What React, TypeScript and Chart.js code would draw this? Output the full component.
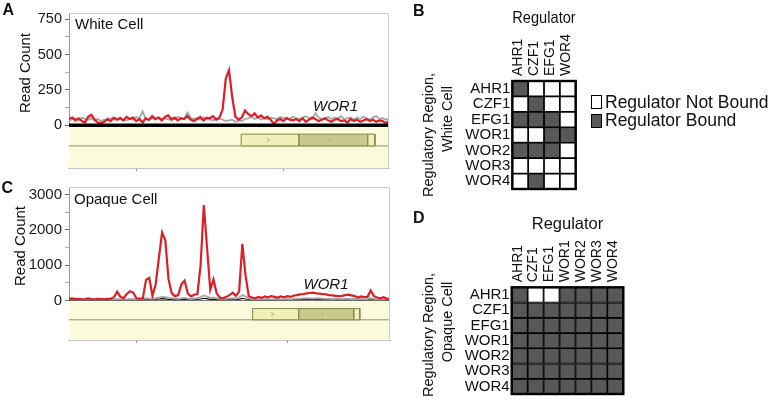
import React, { useEffect, useRef } from 'react';
import { Chart, registerables } from 'chart.js';

Chart.register(...registerables);

const FONT = "'Liberation Sans', Arial, Helvetica, sans-serif";
Chart.defaults.font.family = FONT;

const RED = '#da1f27';
const GREY = '#a6a6a6';
const INPUT = '#111111';
const CELL_ON = '#585858';
const CELL_OFF = '#ffffff';
const TRACK_BG = '#fbfbdc';
const UTR_FILL = '#f0f0b8';
const CDS_FILL = '#c9c98c';
const GENE_EDGE = '#86864e';
const DIVIDER = '#8e8e72';
const CHEVRON = '#b5b57a';

// ---------- Panel A : White cell read counts ----------
const whiteChip = [
  45, 55, 35, 50, 30, 20, 60, 75, 40, 20,
  15, 25, 45, 30, 55, 40, 50, 35, 60, 45,
  55, 30, 45, 20, 50, 40, 65, 45, 55, 35,
  60, 70, 40, 55, 35, 50, 45, 65, 40, 30,
  45, 60, 35, 55, 50, 65, 40, 55, 110, 330,
  390, 200, 60, 40, 55, 105, 80, 65, 85, 55,
  70, 50, 60, 40, 10, 35, 45, 30, 50, 40,
  35, 45, 30, 50, 25, 40, 55, 45, 30, 40,
  50, 35, 25, 40, 45, 30, 35, 20, 45, 30,
  40, 25, 35, 45, 30, 40, 25, 35, 30, 15,
  30,
];
const whiteCtrl = [
  30, 45, 50, 35, 55, 45, 40, 50, 35, 45,
  30, 40, 35, 50, 40, 45, 55, 40, 35, 45,
  40, 60, 50, 100, 45, 35, 50, 40, 55, 45,
  50, 40, 55, 45, 60, 50, 45, 90, 55, 45,
  50, 40, 55, 45, 40, 35, 50, 45, 40, 30,
  35, 40, 25, 35, 30, 45, 50, 60, 45, 55,
  40, 50, 45, 55, 50, 45, 60, 50, 55, 45,
  60, 50, 45, 55, 65, 50, 45, 85, 55, 45,
  50, 60, 45, 55, 50, 65, 45, 50, 55, 40,
  55, 45, 60, 50, 40, 55, 65, 45, 50, 40,
  45,
];
const yMajorA = [0, 250, 500, 750];
const yMinorA = [125, 375, 625];
const yRangeA = [-303, 793];
const xTicksA = [21, 67];
const geneA = [53.8, 71.9, 93.4, 95.6]; // 5' end, CDS start, CDS end, 3' end
const trackA = [-62, -145]; // gene box top, track divider
const chevronsA = [62.2, 81.6];

// ---------- Panel C : Opaque cell read counts ----------
const opaqueChip = [
  40, 50, 35, 45, 30, 40, 55, 35, 30, 45,
  40, 30, 45, 50, 90, 250, 100, 60, 180, 260,
  220, 60, 50, 60, 580, 640, 130, 450, 1200, 1920,
  1700, 600, 200, 120, 150, 450, 560, 200, 110, 160,
  180, 1000, 2700, 1500, 300, 590, 200, 80, 60, 100,
  150, 220, 130, 250, 1600, 700, 120, 80, 60, 100,
  70, 110, 90, 120, 100, 80, 110, 90, 120, 100,
  130, 150, 170, 180, 200, 210, 220, 200, 190, 180,
  170, 150, 140, 130, 120, 130, 150, 160, 140, 120,
  80, 110, 90, 100, 280, 120, 80, 60, 90, 50,
  30,
];
const opaqueCtrl = [
  50, 60, 40, 30, 25, 20, 30, 25, 20, 25,
  20, 25, 30, 20, 25, 35, 30, 25, 30, 40,
  35, 30, 25, 40, 60, 50, 40, 60, 80, 100,
  90, 70, 60, 50, 45, 60, 70, 50, 40, 50,
  60, 90, 140, 110, 70, 80, 60, 40, 35, 40,
  50, 60, 50, 80, 150, 110, 60, 40, 30, 35,
  30, 35, 40, 30, 35, 40, 30, 35, 40, 30,
  40, 45, 50, 55, 60, 55, 50, 60, 55, 50,
  45, 40, 35, 40, 45, 35, 40, 45, 35, 40,
  35, 40, 30, 35, 60, 40, 30, 25, 30, 25,
  20,
];
const opaqueInput = [
  10, 15, 5, 10, 20, 15, 10, 5, 15, 10,
  20, 15, 10, 25, 15, 20, 10, 15, 20, 25,
  15, 20, 10, 15, 30, 25, 20, 30, 40, 50,
  45, 30, 25, 20, 15, 25, 30, 20, 15, 20,
  30, 40, 60, 50, 30, 35, 25, 20, 15, 20,
  25, 30, 20, 30, 60, 40, 25, 15, 20, 15,
  10, 15, 20, 15, 10, 20, 15, 10, 15, 20,
  25, 20, 30, 25, 35, 30, 25, 30, 25, 20,
  15, 20, 25, 15, 20, 10, 15, 20, 25, 15,
  20, 15, 10, 15, 30, 20, 15, 10, 15, 10,
  5,
];
const yMajorC = [0, 1000, 2000, 3000];
const yMinorC = [500, 1500, 2500];
const yRangeC = [-1121, 3209];
const xTicksC = [21, 68];
const geneC = [57.2, 71.6, 88.8, 90.6];
const trackC = [-231, -550];
const chevronsC = [63.4, 79];

// ---------- Panels B and D : binding matrices ----------
const regulatorsB = ['AHR1', 'CZF1', 'EFG1', 'WOR4'];
const regionsB = ['AHR1', 'CZF1', 'EFG1', 'WOR1', 'WOR2', 'WOR3', 'WOR4'];
const boundB = [
  [1, 0, 0, 0],
  [0, 1, 0, 0],
  [1, 1, 1, 0],
  [0, 0, 1, 1],
  [1, 1, 1, 0],
  [0, 0, 0, 0],
  [0, 1, 0, 0],
];
const regulatorsD = ['AHR1', 'CZF1', 'EFG1', 'WOR1', 'WOR2', 'WOR3', 'WOR4'];
const regionsD = ['AHR1', 'CZF1', 'EFG1', 'WOR1', 'WOR2', 'WOR3', 'WOR4'];
const boundD = [
  [1, 0, 0, 1, 1, 1, 1],
  [1, 1, 1, 1, 1, 1, 1],
  [1, 1, 1, 1, 1, 1, 1],
  [1, 1, 1, 1, 1, 1, 1],
  [1, 1, 1, 1, 1, 1, 1],
  [1, 1, 1, 1, 1, 1, 1],
  [1, 1, 1, 1, 1, 1, 1],
];

// ---------- helpers ----------
const rectPts = (x0: number, x1: number, y0: number, y1: number) => [
  { x: x0, y: y0 }, { x: x1, y: y0 }, { x: x1, y: y1 }, { x: x0, y: y1 }, { x: x0, y: y0 },
];
const chevronPts = (x: number, yc: number, h: number) => [
  { x: x - 0.45, y: yc + h }, { x: x + 0.45, y: yc }, { x: x - 0.45, y: yc - h },
];

function topRightFrame(color: string) {
  return {
    id: 'topRightFrame',
    afterDraw(chart: any) {
      const { ctx, chartArea: a } = chart;
      ctx.save();
      ctx.strokeStyle = color;
      ctx.lineWidth = 1;
      ctx.beginPath();
      ctx.moveTo(a.left, a.top + 0.5);
      ctx.lineTo(a.right - 0.5, a.top + 0.5);
      ctx.lineTo(a.right - 0.5, a.bottom);
      ctx.stroke();
      ctx.restore();
    },
  };
}

function outerFrame(color: string, width: number) {
  return {
    id: 'outerFrame',
    afterDatasetsDraw(chart: any) {
      const { ctx, chartArea: a } = chart;
      ctx.save();
      ctx.strokeStyle = color;
      ctx.lineWidth = width;
      ctx.strokeRect(a.left, a.top, a.right - a.left, a.bottom - a.top);
      ctx.restore();
    },
  };
}

type TrackOpts = {
  series: { values: number[]; color: string; width: number }[];
  yRange: number[];
  yMajor: number[];
  yMinor: number[];
  xTicks: number[];
  gene: number[];
  track: number[];
  chevrons: number[];
  zeroColor: string;
  zeroWidth: number;
  padTop: number;
  padRight: number;
  tickSize: number;
};

function trackConfig(o: TrackOpts): any {
  const [boxTop, boxBottom] = o.track;
  const mid = (boxTop + boxBottom) / 2;
  const h = (boxTop - boxBottom) * 0.17;
  const line = (extra: any) => ({ type: 'line', pointRadius: 0, tension: 0, fill: false, ...extra });
  const datasets: any[] = [
    line({ data: [{ x: 0, y: 0 }, { x: 100, y: 0 }], borderColor: o.zeroColor, borderWidth: o.zeroWidth }),
    ...o.series.map((s) =>
      line({ data: s.values.map((v, i) => ({ x: i, y: v })), borderColor: s.color, borderWidth: s.width })
    ),
    ...o.chevrons.map((c) => line({ data: chevronPts(c, mid, h), borderColor: CHEVRON, borderWidth: 1 })),
    line({ data: rectPts(o.gene[2], o.gene[3], boxTop, boxBottom), fill: 'shape', backgroundColor: UTR_FILL, borderColor: GENE_EDGE, borderWidth: 1 }),
    line({ data: rectPts(o.gene[1], o.gene[2], boxTop, boxBottom), fill: 'shape', backgroundColor: CDS_FILL, borderColor: GENE_EDGE, borderWidth: 1 }),
    line({ data: rectPts(o.gene[0], o.gene[1], boxTop, boxBottom), fill: 'shape', backgroundColor: UTR_FILL, borderColor: GENE_EDGE, borderWidth: 1 }),
    line({ data: [{ x: 0, y: boxBottom }, { x: 100, y: boxBottom }], borderColor: DIVIDER, borderWidth: 1 }),
    line({ data: [{ x: 0, y: 0 }, { x: 100, y: 0 }], fill: 'start', backgroundColor: TRACK_BG, borderWidth: 0 }),
  ];
  const yTicks = [...o.yMajor, ...o.yMinor].sort((a, b) => a - b);
  return {
    type: 'line',
    data: { datasets },
    options: {
      animation: false,
      responsive: false,
      maintainAspectRatio: false,
      devicePixelRatio: 1,
      events: [],
      layout: { padding: { top: o.padTop, right: o.padRight, left: 0, bottom: 0 } },
      plugins: { legend: { display: false }, tooltip: { enabled: false } },
      scales: {
        x: {
          type: 'linear',
          min: 0,
          max: 100,
          afterBuildTicks: (s: any) => { s.ticks = o.xTicks.map((v) => ({ value: v })); },
          ticks: { callback: () => '', autoSkip: false },
          grid: { drawOnChartArea: false, tickLength: 3, color: '#9a9a9a' },
          border: { color: '#c4c4c4' },
          afterFit: (s: any) => { s.height = 8; },
        },
        y: {
          type: 'linear',
          min: o.yRange[0],
          max: o.yRange[1],
          afterBuildTicks: (s: any) => { s.ticks = yTicks.map((v) => ({ value: v })); },
          ticks: {
            autoSkip: false,
            padding: 3,
            color: '#1a1a1a',
            font: { size: o.tickSize },
            callback: (v: number) => (o.yMajor.includes(v) ? String(v) : ''),
          },
          grid: {
            drawOnChartArea: false,
            tickLength: 4,
            color: (c: any) => (c.tick && o.yMajor.includes(c.tick.value) ? '#707070' : '#b0b0b0'),
          },
          border: { color: '#9a9a9a' },
          afterFit: (s: any) => { s.width = 69; },
        },
      },
    },
    plugins: [topRightFrame('#cccccc')],
  };
}

type HeatOpts = {
  rows: string[];
  cols: string[];
  bound: number[][];
  axisW: number;
  axisH: number;
  padRight: number;
  padBottom: number;
  titlePadTop: number;
  labelPad: number;
};

function heatConfig(o: HeatOpts): any {
  return {
    type: 'bar',
    data: {
      labels: o.rows,
      datasets: o.cols.map((c, j) => ({
        label: c,
        data: o.rows.map(() => 1),
        backgroundColor: o.rows.map((_, i) => (o.bound[i][j] ? CELL_ON : CELL_OFF)),
        borderColor: '#000',
        borderWidth: 1.2,
        borderSkipped: false,
        barPercentage: 1,
        categoryPercentage: 1,
      })),
    },
    options: {
      indexAxis: 'y',
      animation: false,
      responsive: false,
      maintainAspectRatio: false,
      devicePixelRatio: 1,
      events: [],
      layout: { padding: { top: 0, left: 0, right: o.padRight, bottom: o.padBottom } },
      plugins: { legend: { display: false }, tooltip: { enabled: false } },
      scales: {
        x: {
          type: 'linear',
          position: 'top',
          stacked: true,
          min: 0,
          max: o.cols.length,
          afterBuildTicks: (s: any) => { s.ticks = o.cols.map((_, i) => ({ value: i + 0.5 })); },
          ticks: {
            autoSkip: false,
            minRotation: 90,
            maxRotation: 90,
            padding: o.labelPad,
            labelOffset: 14.8,
            color: '#111',
            font: { size: 14 },
            callback: (_v: number, i: number) => o.cols[i],
          },
          grid: { display: false, drawTicks: false },
          border: { display: false },
          title: {
            display: true,
            text: 'Regulator',
            color: '#111',
            font: { size: 16.5 },
            padding: { top: o.titlePadTop, bottom: 0 },
          },
          afterFit: (s: any) => { s.height = o.axisH; },
        },
        y: {
          stacked: true,
          ticks: { color: '#111', font: { size: 15 }, padding: 2, autoSkip: false },
          grid: { display: false, drawTicks: false },
          border: { display: false },
          afterFit: (s: any) => { s.width = o.axisW; },
        },
      },
    },
    plugins: [outerFrame('#000', 2.4)],
  };
}

function ChartCanvas({ make, left, top, width, height }: { make: () => any; left: number; top: number; width: number; height: number }) {
  const ref = useRef<HTMLCanvasElement | null>(null);
  useEffect(() => {
    if (!ref.current) return;
    const chart = new Chart(ref.current, make());
    return () => chart.destroy();
  }, []);
  return (
    <canvas
      ref={ref}
      width={width}
      height={height}
      style={{ position: 'absolute', left, top, width, height, display: 'block' }}
    />
  );
}

type TxtProps = {
  text: string; x: number; y: number; size: number; weight?: number; italic?: boolean;
  anchor?: 'left' | 'center'; vertical?: boolean;
};
function Txt({ text, x, y, size, weight = 400, italic = false, anchor = 'left', vertical = false }: TxtProps) {
  let transform = anchor === 'center' ? 'translate(-50%,-50%)' : 'translateY(-50%)';
  if (vertical) transform = 'translate(-50%,-50%) rotate(-90deg)';
  return (
    <div
      style={{
        position: 'absolute', left: x, top: y, transform, fontFamily: FONT, fontSize: size,
        fontWeight: weight, fontStyle: italic ? 'italic' : 'normal', lineHeight: 1,
        whiteSpace: 'nowrap', color: '#111',
      }}
    >
      {text}
    </div>
  );
}

function LegendBox({ x, y, fill }: { x: number; y: number; fill: string }) {
  return (
    <div
      style={{
        position: 'absolute', left: x, top: y, width: 11, height: 14, background: fill,
        border: '1.5px solid #000', boxSizing: 'border-box',
      }}
    />
  );
}

const makeA = () =>
  trackConfig({
    series: [
      { values: whiteChip, color: RED, width: 2.2 },
      { values: whiteCtrl, color: GREY, width: 1.8 },
    ],
    yRange: yRangeA, yMajor: yMajorA, yMinor: yMinorA, xTicks: xTicksA, gene: geneA,
    track: trackA, chevrons: chevronsA, zeroColor: '#000', zeroWidth: 3.5,
    padTop: 13, padRight: 11, tickSize: 14.5,
  });

const makeC = () =>
  trackConfig({
    series: [
      { values: opaqueChip, color: RED, width: 2.2 },
      { values: opaqueCtrl, color: GREY, width: 1.8 },
      { values: opaqueInput, color: INPUT, width: 1.2 },
    ],
    yRange: yRangeC, yMajor: yMajorC, yMinor: yMinorC, xTicks: xTicksC, gene: geneC,
    track: trackC, chevrons: chevronsC, zeroColor: '#666', zeroWidth: 1,
    padTop: 11.7, padRight: 10, tickSize: 15,
  });

const makeB = () =>
  heatConfig({
    rows: regionsB, cols: regulatorsB, bound: boundB,
    axisW: 112.3, axisH: 81, padRight: 198.3, padBottom: 5.7, titlePadTop: 8.4, labelPad: 5,
  });

const makeD = () =>
  heatConfig({
    rows: regionsD, cols: regulatorsD, bound: boundD,
    axisW: 111.7, axisH: 87.3, padRight: 150.7, padBottom: 1.7, titlePadTop: 14.4, labelPad: 5,
  });

export default function App() {
  return (
    <div style={{ position: 'fixed', left: 0, top: 0, width: 774, height: 405, background: '#fff', overflow: 'hidden' }}>
      <ChartCanvas make={makeA} left={0} top={0} width={400} height={180} />
      <ChartCanvas make={makeC} left={0} top={175} width={400} height={177} />
      <ChartCanvas make={makeB} left={400} top={0} width={374} height={200} />
      <ChartCanvas make={makeD} left={400} top={200} width={374} height={205} />

      <Txt text="A" x={2.5} y={9.5} size={16} weight={700} />
      <Txt text="C" x={1.5} y={187.5} size={16} weight={700} />
      <Txt text="B" x={413} y={11} size={16} weight={700} />
      <Txt text="D" x={413} y={217.5} size={16} weight={700} />

      <Txt text="White Cell" x={75} y={23} size={15} />
      <Txt text="Opaque Cell" x={74} y={198} size={15} />
      <Txt text="WOR1" x={313} y={104.5} size={15} italic />
      <Txt text="WOR1" x={303.5} y={283} size={15} italic />
      <Txt text="Read Count" x={24} y={72.5} size={15} vertical />
      <Txt text="Read Count" x={19} y={246} size={15} vertical />

      <Txt text="Regulatory Region," x={428} y={135} size={14.5} vertical />
      <Txt text="White Cell" x={447} y={119} size={14.5} vertical />
      <Txt text="Regulatory Region," x={428} y={335} size={14.5} vertical />
      <Txt text="Opaque Cell" x={447} y={322} size={14.5} vertical />

      <LegendBox x={591} y={95} fill={CELL_OFF} />
      <LegendBox x={591} y={113.5} fill={CELL_ON} />
      <Txt text="Regulator Not Bound" x={605} y={102.5} size={17.5} />
      <Txt text="Regulator Bound" x={605} y={121} size={17.5} />
    </div>
  );
}
